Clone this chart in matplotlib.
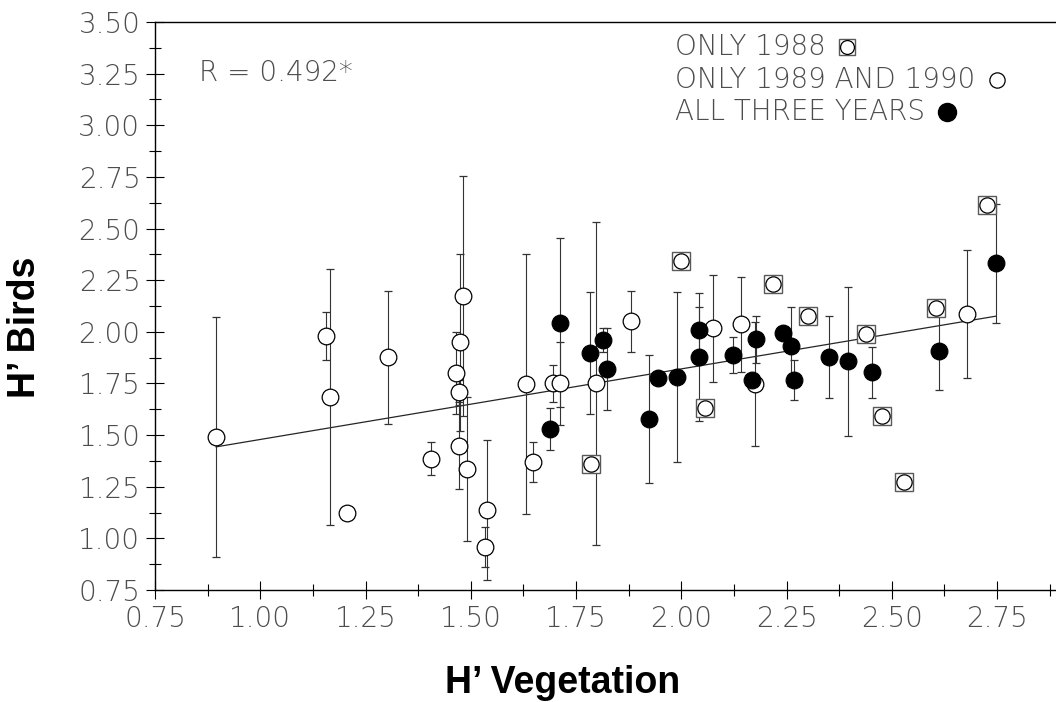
import numpy as np
import matplotlib.pyplot as plt
from matplotlib.ticker import MultipleLocator, FormatStrFormatter

# sites sampled only in 1988
sq_x = [2.00, 1.786, 2.057, 2.219, 2.300, 2.438, 2.476, 2.528, 2.605, 2.725]
sq_y = [2.344, 1.361, 1.632, 2.231, 2.075, 1.990, 1.592, 1.274, 2.113, 2.614]

# sites sampled only in 1989 and 1990
oc_x = [0.895, 1.157, 1.165, 1.206, 1.304, 1.406, 1.464, 1.471, 1.474, 1.481,
        1.473, 1.491, 1.534, 1.539, 1.630, 1.648, 1.695, 1.711, 1.798, 1.881,
        2.075, 2.143, 2.174, 2.678]
oc_y = [1.49, 1.98, 1.683, 1.124, 1.876, 1.385, 1.80, 1.708, 1.949, 2.173,
        1.448, 1.335, 0.958, 1.137, 1.747, 1.371, 1.75, 1.75, 1.75, 2.05,
        2.017, 2.036, 1.747, 2.086]
oc_err = [0.58, 0.115, 0.62, 0.0, 0.32, 0.08, 0.20, 0.06, 0.43, 0.58,
          0.21, 0.35, 0.095, 0.34, 0.63, 0.097, 0.09, 0.20, 0.78, 0.15,
          0.26, 0.23, 0.30, 0.31]

# sites sampled all three years
fc_x = [1.689, 1.711, 1.782, 1.815, 1.823, 1.923, 1.944, 1.989, 2.043, 2.043,
        2.124, 2.168, 2.178, 2.242, 2.261, 2.268, 2.350, 2.395, 2.454, 2.611,
        2.748]
fc_y = [1.53, 2.044, 1.896, 1.96, 1.82, 1.576, 1.777, 1.782, 2.010, 1.877,
        1.888, 1.766, 1.963, 1.994, 1.930, 1.768, 1.878, 1.858, 1.804, 1.907,
        2.331]
fc_err = [0.10, 0.41, 0.295, 0.06, 0.20, 0.31, 0.0, 0.41, 0.11, 0.31,
          0.088, 0.0, 0.115, 0.0, 0.19, 0.097, 0.20, 0.36, 0.124, 0.19,
          0.29]

slope = 0.3416
intercept = 1.1373
r_text = "R = 0.492*"

legend_labels = ["ONLY 1988", "ONLY 1989 AND 1990", "ALL THREE YEARS"]

tick_font = dict(family="DejaVu Sans", fontweight="light", color="0.3")

fig = plt.figure(figsize=(10.56, 7.02), dpi=100)
ax = fig.add_axes([0.1468, 0.1595, 0.8532, 0.8092])

# regression line over the range of the data
all_x = np.array(oc_x + fc_x + sq_x)
lx = np.array([all_x.min(), all_x.max()])
ax.plot(lx, intercept + slope * lx, color="0.15", lw=0.9, zorder=2)

eb = dict(fmt="o", ms=12, mec="black", mew=0.9, ecolor="0.2",
          elinewidth=0.8, capsize=3, capthick=0.8, zorder=3)
ax.errorbar(oc_x, oc_y, yerr=oc_err, mfc="white", **eb)
ax.errorbar(fc_x, fc_y, yerr=fc_err, mfc="black", **eb)

ax.plot(sq_x, sq_y, "s", ms=12.5, mfc="white", mec="0.35", mew=1.0, zorder=4)
ax.plot(sq_x, sq_y, "o", ms=11, mfc="white", mec="black", mew=0.9, zorder=5)

ax.set_xlim(0.75, 2.89)
ax.set_ylim(0.75, 3.5)
for axis in (ax.xaxis, ax.yaxis):
    axis.set_major_locator(MultipleLocator(0.25))
    axis.set_minor_locator(MultipleLocator(0.125))
    axis.set_major_formatter(FormatStrFormatter("%.2f"))
ax.tick_params(which="major", direction="inout", length=13, width=0.8,
               labelsize=20, labelcolor="0.3", pad=4)
ax.tick_params(which="minor", direction="inout", length=8, width=0.8)
for lab in ax.get_xticklabels() + ax.get_yticklabels():
    lab.set_fontweight("light")

ax.spines["right"].set_visible(False)
for s in ["left", "bottom", "top"]:
    ax.spines[s].set_linewidth(1.0)

ax.set_xlabel("H\u2019 Vegetation", family="Liberation Sans", fontweight="bold",
              fontsize=27, va="center")
ax.xaxis.set_label_coords(0.452, -0.164)
ax.set_ylabel("H\u2019 Birds", family="Liberation Sans", fontweight="bold",
              fontsize=27, va="center")
ax.yaxis.set_label_coords(-0.144, 0.463)

ax.text(0.854, 3.253, r_text, fontsize=20, va="center", **tick_font)

# legend drawn as text with a marker right after each label
leg_y = [3.379, 3.219, 3.064]
texts = [ax.text(1.984, y, lab, fontsize=20, va="center", **tick_font)
         for lab, y in zip(legend_labels, leg_y)]
fig.canvas.draw()
rend = fig.canvas.get_renderer()
inv = ax.transData.inverted()
pos = []
for t, y in zip(texts, leg_y):
    bb = t.get_window_extent(renderer=rend)
    xd = inv.transform((bb.x1 + 22, 0))[0]
    pos.append((xd, y))
ax.plot(*pos[0], "s", ms=11.5, mfc="white", mec="0.35", mew=1.0)
ax.plot(*pos[0], "o", ms=10, mfc="white", mec="black", mew=0.9)
ax.plot(*pos[1], "o", ms=11, mfc="white", mec="black", mew=0.9)
ax.plot(*pos[2], "o", ms=13, mfc="black", mec="black")

fig.savefig("out.png", dpi=100)
